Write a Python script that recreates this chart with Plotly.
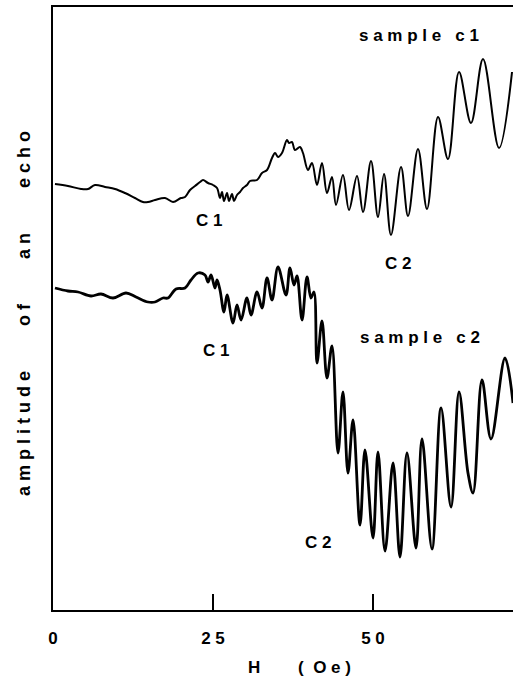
import plotly.graph_objects as go

# ---- data (H in Oe, amplitude in arbitrary units) ----
h_c1 = [0.31, 2.34, 4.38, 5.47, 6.56, 8.13, 9.69, 11.25, 12.81, 14.06, 14.84, 15.94, 17.5, 18.75, 20.0,
        20.63, 21.41, 22.19, 22.97, 23.44, 24.22, 25.0, 25.63, 26.09, 26.41, 26.72, 27.19, 27.5, 27.97,
        28.28, 28.75, 29.22, 29.69, 30.31, 30.78, 31.88, 32.66, 33.44, 34.22, 34.69, 35.16, 35.78, 36.56,
        36.88, 37.34, 37.81, 38.59, 39.06, 39.84, 40.47, 41.25, 42.03, 42.81, 43.59, 44.22, 45.31, 46.25,
        47.5, 48.44, 49.69, 50.78, 51.72, 52.81, 54.38, 55.47, 57.03, 58.44, 60.16, 61.72, 63.44, 65.31,
        67.19, 69.69, 71.72]
amp_c1 = [426, 424, 421, 421, 425, 423, 421, 417, 412, 408, 408, 410, 412, 408, 412,
          413, 420, 424, 428, 430, 427, 425, 422, 412, 418, 409, 417, 409, 416,
          409, 415, 418, 422, 425, 429, 430, 437, 440, 452, 457, 453, 457, 470,
          467, 468, 460, 463, 457, 440, 447, 425, 447, 417, 433, 405, 435, 400,
          434, 398, 449, 393, 436, 375, 443, 394, 461, 401, 493, 451, 538, 487,
          551, 462, 538]

h_c2 = [0.31, 2.34, 3.91, 5.94, 7.5, 9.38, 11.41, 12.97, 14.84, 15.94, 17.19, 17.97, 19.22, 20.63, 21.56,
        22.66, 23.75, 24.22, 24.69, 25.31, 25.63, 26.09, 26.72, 27.19, 28.13, 28.75, 29.38, 30.31, 30.94,
        31.88, 32.66, 33.44, 34.22, 35.16, 36.41, 37.03, 37.66, 38.13, 38.91, 39.69, 40.31, 40.78, 41.25,
        42.03, 42.81, 43.59, 44.53, 45.31, 46.09, 46.88, 47.97, 48.75, 50.0, 50.78, 51.88, 53.13, 54.22,
        55.31, 56.72, 57.66, 59.22, 60.63, 62.19, 63.44, 64.84, 65.63, 67.03, 68.44, 70.63, 71.88]
amp_c2 = [322, 319, 318, 314, 316, 312, 317, 313, 308, 308, 312, 312, 321, 322, 330,
          337, 335, 328, 335, 322, 330, 320, 298, 315, 287, 305, 290, 312, 295,
          318, 302, 332, 310, 343, 315, 342, 325, 334, 290, 333, 312, 318, 247,
          289, 232, 264, 157, 218, 137, 190, 85, 160, 72, 158, 59, 147, 53,
          157, 62, 171, 61, 202, 103, 218, 137, 117, 230, 171, 252, 207]

x_ticks = [0, 25, 50]
x_ticktext = ["0", "25", "50"]

# labels: (text, H, amplitude)
labels = [
    ("sample c1", 57.2, 575),
    ("C1", 24.4, 390),
    ("C2", 53.9, 347),
    ("sample c2", 57.3, 273),
    ("C1", 25.5, 260),
    ("C2", 41.4, 68),
]

NB = "\u00a0"


def spaced(s, gap=1, word_gap=3):
    words = s.split(" ")
    return (NB * word_gap).join((NB * gap).join(w) for w in words)


FONT = "Liberation Sans, Arial, sans-serif"

fig = go.Figure()
fig.add_trace(go.Scatter(x=h_c1, y=amp_c1, mode="lines",
                         line=dict(color="black", width=2, shape="spline", smoothing=1.0),
                         showlegend=False, hoverinfo="skip"))
fig.add_trace(go.Scatter(x=h_c2, y=amp_c2, mode="lines",
                         line=dict(color="black", width=2.8, shape="spline", smoothing=1.0),
                         showlegend=False, hoverinfo="skip"))

for text, hx, ay in labels:
    fig.add_annotation(x=hx, y=ay, xref="x", yref="y", text=spaced(text), showarrow=False,
                       xanchor="center", yanchor="middle",
                       font=dict(family=FONT, size=17, color="black", weight="bold"))

# y-axis title (letter-spaced, rotated)
ytitle = (NB * 9).join((NB).join(w) for w in ["amplitude", "of", "an", "echo"])
fig.add_annotation(x=-0.063, y=0.491, xref="paper", yref="paper", text=ytitle, textangle=-90,
                   showarrow=False, xanchor="center", yanchor="middle",
                   font=dict(family=FONT, size=18, color="black", weight="bold"))

# x-axis title
xtitle = "H" + NB * 8 + "(" + NB * 2 + "O" + NB + "e" + NB + ")"
fig.add_annotation(x=0.535, y=-0.096, xref="paper", yref="paper", text=xtitle, showarrow=False,
                   xanchor="center", yanchor="middle",
                   font=dict(family=FONT, size=17, color="black", weight="bold"))

fig.update_layout(
    width=513, height=679,
    margin=dict(l=53, r=0, t=7, b=69),
    paper_bgcolor="white", plot_bgcolor="white",
    xaxis=dict(range=[0, 71.875], showline=True, linecolor="black", linewidth=2, mirror=True,
               ticks="inside", ticklen=16, tickwidth=2, tickcolor="black",
               tickvals=x_ticks, ticktext=[spaced(t) for t in x_ticktext],
               tickfont=dict(family=FONT, size=17, color="black", weight="bold"),
               ticklabelstandoff=12, showgrid=False, zeroline=False),
    yaxis=dict(range=[0, 603], showline=True, linecolor="black", linewidth=2, mirror=False,
               showticklabels=False, ticks="", showgrid=False, zeroline=False),
)

fig.write_html("out.html")
